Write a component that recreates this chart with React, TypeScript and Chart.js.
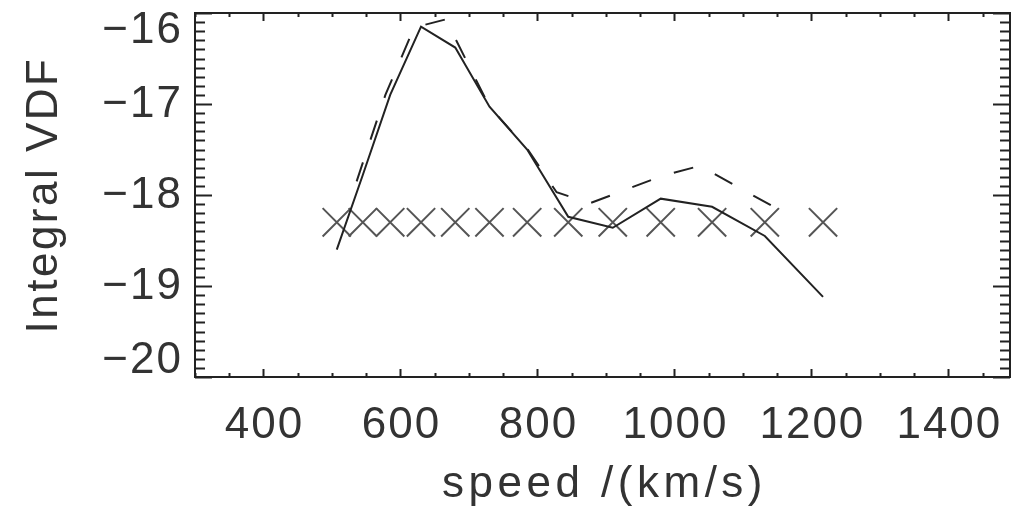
import React, { useEffect, useRef } from "react";
import { Chart, registerables } from "chart.js";

Chart.register(...registerables);

// ---- data ----
const speedX = [507, 545, 585, 630, 680, 730, 785, 845, 910, 980, 1055, 1132, 1217];
const solidY = [-18.6, -17.78, -16.9, -16.15, -16.38, -17.03, -17.5, -18.24, -18.36, -18.04, -18.13, -18.45, -19.12];
const markerY = [-18.3, -18.3, -18.3, -18.3, -18.3, -18.3, -18.3, -18.3, -18.3, -18.3, -18.3, -18.3, -18.3];
const dashedX = [536, 578, 620, 666, 730, 786, 828, 877, 982, 1037, 1169];
const dashedY = [-17.85, -16.9, -16.16, -16.07, -17.03, -17.5, -17.97, -18.09, -17.79, -17.68, -18.23];

const xTickValues = [400, 600, 800, 1000, 1200, 1400];
const xTickLabels = ["400", "600", "800", "1000", "1200", "1400"];
const yTickValues = [-16, -17, -18, -19, -20];
const yTickLabels = ["\u221216", "\u221217", "\u221218", "\u221219", "\u221220"];
const xTitle = "speed /(km/s)";
const yTitle = "Integral VDF";

const X_MIN = 300;
const X_MAX = 1490;
const Y_MIN = -20;
const Y_MAX = -16;

const FONT = "44px 'Liberation Sans', Arial, sans-serif";
const INK = "#222";
const TEXT_INK = "#333";

const idlAxes = {
  id: "idlAxes",
  afterDraw(chart: any) {
    const { ctx, chartArea, scales } = chart;
    const { left, right, top, bottom } = chartArea;
    const x = scales.x;
    const y = scales.y;
    ctx.save();
    ctx.strokeStyle = INK;
    ctx.lineWidth = 2;
    ctx.strokeRect(left, top, right - left, bottom - top);

    // x ticks (minor every 50, major at labelled values)
    ctx.beginPath();
    for (let v = X_MIN; v <= X_MAX + 0.01; v += 50) {
      const px = Math.round(x.getPixelForValue(v)) + 0.5;
      const major = xTickValues.includes(v);
      const len = major ? 8 : 4;
      ctx.moveTo(px, bottom);
      ctx.lineTo(px, bottom - len);
      ctx.moveTo(px, top);
      ctx.lineTo(px, top + len);
    }
    // y ticks (minor every 0.1)
    for (let i = 0; i <= 40; i++) {
      const v = Y_MIN + i * 0.1;
      const py = Math.round(y.getPixelForValue(v)) + 0.5;
      const major = i % 10 === 0;
      const len = major ? 17 : 10;
      ctx.moveTo(left, py);
      ctx.lineTo(left + len, py);
      ctx.moveTo(right, py);
      ctx.lineTo(right - len, py);
    }
    ctx.stroke();

    // labels
    ctx.fillStyle = TEXT_INK;
    ctx.font = FONT;
    ctx.textBaseline = "middle";
    ctx.textAlign = "center";
    (ctx as any).letterSpacing = "2px";
    xTickValues.forEach((v, i) => {
      ctx.fillText(xTickLabels[i], x.getPixelForValue(v) + 1, 426);
    });
    ctx.textAlign = "right";
    const h = 34;
    yTickValues.forEach((v, i) => {
      let py = y.getPixelForValue(v);
      py = Math.min(Math.max(py, top + h / 2), bottom - h / 2);
      ctx.fillText(yTickLabels[i], 183, py + 1);
    });
    // titles
    ctx.textAlign = "center";
    ctx.textBaseline = "alphabetic";
    (ctx as any).letterSpacing = "4.5px";
    ctx.fillText(xTitle, (left + right) / 2 + 2, 497);
    ctx.save();
    ctx.translate(57, (top + bottom) / 2);
    ctx.rotate(-Math.PI / 2);
    (ctx as any).letterSpacing = "2.5px";
    ctx.fillText(yTitle, 0, 0);
    ctx.restore();
    ctx.restore();
  },
};

export default function App() {
  const ref = useRef<HTMLCanvasElement | null>(null);
  useEffect(() => {
    if (!ref.current) return;
    const chart = new Chart(ref.current, {
      type: "scatter",
      data: {
        datasets: [
          {
            label: "solid",
            data: speedX.map((v, i) => ({ x: v, y: solidY[i] })),
            showLine: true,
            borderColor: INK,
            borderWidth: 2,
            pointRadius: 0,
            order: 1,
          },
          {
            label: "dashed",
            data: dashedX.map((v, i) => ({ x: v, y: dashedY[i] })),
            showLine: true,
            borderColor: INK,
            borderWidth: 2,
            borderDash: [20, 24],
            pointRadius: 0,
            order: 2,
          },
          {
            label: "markers",
            data: speedX.map((v, i) => ({ x: v, y: markerY[i] })),
            showLine: false,
            pointStyle: "crossRot",
            pointRadius: 20,
            borderColor: "#555",
            pointBorderColor: "#555",
            pointBorderWidth: 2,
            borderWidth: 2,
            order: 3,
          },
        ],
      },
      options: {
        animation: false,
        responsive: false,
        devicePixelRatio: 1,
        layout: { autoPadding: false, padding: { left: 195, right: 8, top: 13, bottom: 133 } },
        plugins: { legend: { display: false }, tooltip: { enabled: false } },
        scales: {
          x: { type: "linear", min: X_MIN, max: X_MAX, display: false },
          y: { type: "linear", min: Y_MIN, max: Y_MAX, display: false },
        },
      },
      plugins: [idlAxes],
    });
    return () => chart.destroy();
  }, []);
  return (
    <div style={{ position: "fixed", left: 0, top: 0, width: 1018, height: 510, background: "#fff" }}>
      <canvas ref={ref} width={1018} height={510} />
    </div>
  );
}
